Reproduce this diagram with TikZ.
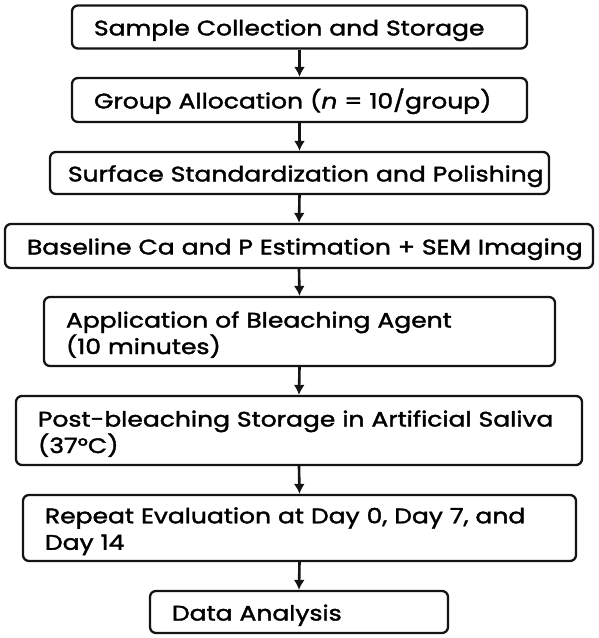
\documentclass[tikz,border=0pt]{standalone}
\usepackage{fontspec}
\setmainfont{Poppins}[FakeStretch=1.19, FakeBold=1.8]
\usepackage{tikz}
\usetikzlibrary{shapes,arrows.meta,calc}
\definecolor{flowline}{RGB}{20,20,20}
\tikzset{
    stepbox/.style={rectangle, rounded corners=6pt, draw=flowline, line width=2.3pt, fill=white,
        inner xsep=22pt, inner ysep=0pt, align=left, font=\fontsize{21}{26.5}\selectfont,
        execute at begin node={\rule{0pt}{22.5pt}}},
    flow/.style={line width=2.6pt, flowline, -{Latex[length=10pt,width=11pt]}},
}
\begin{document}
\begin{tikzpicture}[x=1pt, y=-1pt]
    \useasboundingbox (0,0) rectangle (598,638);

    % steps of the protocol
    \node[stepbox, text width=411pt, minimum height=43pt] (collect) at (299.5, 27) {Sample Collection and Storage};
    \node[stepbox, text width=411pt, minimum height=44pt] (alloc) at (299.5, 100) {Group Allocation (\textit{n} = 10/group)};
    \node[stepbox, inner xsep=18pt, text width=463pt, minimum height=42pt] (polish) at (299.5, 173) {\mbox{Surface Standardization and Polishing}};
    \node[stepbox, text width=544pt, minimum height=44pt] (base) at (299, 246) {\mbox{Baseline Ca and P Estimation + SEM Imaging}};
    \node[stepbox, text width=467pt, minimum height=69pt] (bleach) at (299.5, 331.5) {Application of Bleaching Agent\\(10 minutes)};
    \node[stepbox, text width=522pt, minimum height=69pt] (saliva) at (299, 430.5) {\mbox{Post-bleaching Storage in Artificial Saliva}\\(37°C)};
    \node[stepbox, text width=509pt, minimum height=66pt] (repeat) at (299.5, 528) {Repeat Evaluation at Day 0, Day 7, and\\Day 14};
    \node[stepbox, text width=254pt, minimum height=42pt] (data) at (299, 612) {Data Analysis};

    % arrows
    \foreach \a/\b in {collect/alloc, alloc/polish, polish/base, base/bleach, bleach/saliva, saliva/repeat, repeat/data} {
        \draw[flow] (\a.south) -- (\b.north);
    }
\end{tikzpicture}
\end{document}
